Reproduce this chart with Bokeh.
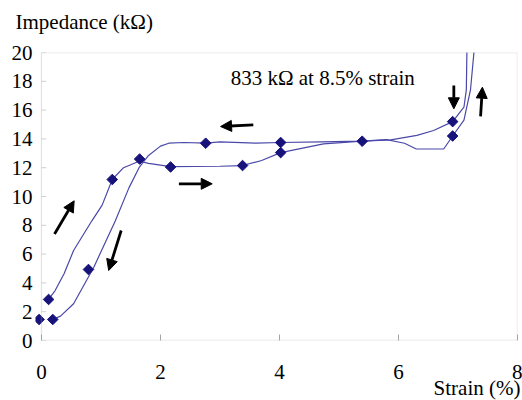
import math
from bokeh.plotting import figure
from bokeh.models import (Range1d, FixedTicker, Label, Arrow, NormalHead, BoxAnnotation, Title)
from bokeh.embed import file_html
from bokeh.resources import INLINE

# ---- data ----
point_strain = [-0.04, 0.12, 0.19, 0.79, 1.19, 1.65, 2.17, 2.76, 3.38, 4.02, 4.02, 5.39, 6.91, 6.91]
point_imped = [1.46, 2.85, 1.46, 4.93, 11.18, 12.6, 12.05, 13.7, 12.15, 13.75, 13.05, 13.84, 15.2, 14.2]

loading_strain = [0.12, 0.23, 0.38, 0.54, 0.85, 1.02, 1.19, 1.38, 1.64, 1.80, 2.17, 3.0, 3.38, 3.7, 4.02,
                  4.74, 5.39, 5.8, 6.1, 6.3, 6.76, 6.91, 7.10, 7.21, 7.27, 7.30]
loading_imped = [2.85, 3.47, 4.63, 6.25, 8.33, 9.4, 11.18, 12.0, 12.45, 12.3, 12.08, 12.1, 12.15, 12.5, 13.05,
                 13.66, 13.84, 13.95, 13.7, 13.3, 13.3, 14.2, 15.3, 17.4, 20.1, 23.0]

unloading_strain = [7.16, 7.15, 7.14, 7.10, 6.91, 6.59, 6.31, 5.87, 5.39, 4.7, 4.02, 3.6, 3.0, 2.76, 2.4,
                    2.14, 2.0, 1.80, 1.64, 1.47, 1.24, 0.88, 0.54, 0.32, 0.19]
unloading_imped = [23.0, 20.1, 17.4, 16.2, 15.2, 14.58, 14.24, 13.93, 13.84, 13.8, 13.75, 13.7, 13.8, 13.7, 13.75,
                   13.7, 13.5, 12.85, 12.0, 10.6, 8.3, 5.09, 2.55, 1.69, 1.46]

x_ticks = [0, 2, 4, 6, 8]
y_ticks = [0, 2, 4, 6, 8, 10, 12, 14, 16, 18, 20]

# arrows: (x_start, y_start, x_end, y_end)
arrow_x0 = [0.22, 1.34, 2.31, 3.56, 6.93, 7.38]
arrow_y0 = [7.4, 7.64, 10.88, 14.98, 17.7, 15.56]
arrow_x1 = [0.55, 1.13, 2.87, 3.01, 6.93, 7.41]
arrow_y1 = [9.7, 4.86, 10.88, 14.86, 16.09, 17.59]

note_text = "833 k\u03a9 at 8.5% strain"
y_title = "Impedance (k\u03a9)"
x_title = "Strain (%)"

FONT = "Liberation Serif, serif"
FS = "21px"
LINE = "#4a48a8"
MARK = "#17137a"
GRAY = "#a6a6a6"

p = figure(width=522, height=400, output_backend="svg", toolbar_location=None,
           x_range=Range1d(-0.1, 8), y_range=Range1d(0, 20),
           min_border_left=35, min_border_right=5, min_border_top=52, min_border_bottom=60)
p.outline_line_color = None
p.background_fill_color = "white"
p.border_fill_color = "white"
p.xgrid.visible = False
p.ygrid.visible = False

# y title above the plot (a blank second line lifts it clear of the frame)
p.title.text = y_title + "\n"
p.title.align = "left"
p.title.offset = -20
p.title.standoff = -10
p.title.text_font = FONT
p.title.text_font_size = FS
p.title.text_font_style = "normal"
p.title.text_color = "black"

for ax in (p.xaxis[0], p.yaxis[0]):
    ax.axis_line_color = None
    ax.minor_tick_line_color = None
    ax.major_tick_line_color = GRAY
    ax.major_label_text_font = FONT
    ax.major_label_text_font_size = FS
    ax.major_label_text_color = "black"

p.xaxis[0].ticker = FixedTicker(ticks=x_ticks)
p.xaxis[0].major_tick_in = 6
p.xaxis[0].major_tick_out = 0
p.xaxis[0].major_label_standoff = 24

p.yaxis[0].ticker = FixedTicker(ticks=y_ticks)
p.yaxis[0].major_tick_in = 0
p.yaxis[0].major_tick_out = 0
p.yaxis[0].major_label_standoff = 3

# x title at the bottom right
p.add_layout(Title(text=x_title, align="right", offset=-3, standoff=-11, vertical_align="top",
                   text_font=FONT, text_font_size=FS, text_font_style="normal",
                   text_color="black"), "below")

# plot box from 0 to 8
p.add_layout(BoxAnnotation(left=0, right=8, bottom=0, top=20, fill_alpha=0,
                           line_color=GRAY, line_width=1.3))
# small inward y ticks at x=0
p.segment(x0=[0] * len(y_ticks), y0=y_ticks, x1=[0.08] * len(y_ticks), y1=y_ticks,
          line_color="#d0d0d0", line_width=1)

p.line(loading_strain, loading_imped, line_color=LINE, line_width=1.2)
p.line(unloading_strain, unloading_imped, line_color=LINE, line_width=1.2)
p.scatter(point_strain, point_imped, marker="square", angle=math.pi / 4, size=7.5,
          fill_color=MARK, line_color=MARK)

for xs, ys, xe, ye in zip(arrow_x0, arrow_y0, arrow_x1, arrow_y1):
    p.add_layout(Arrow(x_start=xs, y_start=ys, x_end=xe, y_end=ye, line_width=2.8, line_color="black",
                       end=NormalHead(size=11, fill_color="black", line_color="black")))

p.add_layout(Label(x=3.18, y=18.26, text=note_text, text_font=FONT, text_font_size=FS,
                   text_color="black", text_baseline="alphabetic"))

open("out.html", "w").write(file_html(p, INLINE))
